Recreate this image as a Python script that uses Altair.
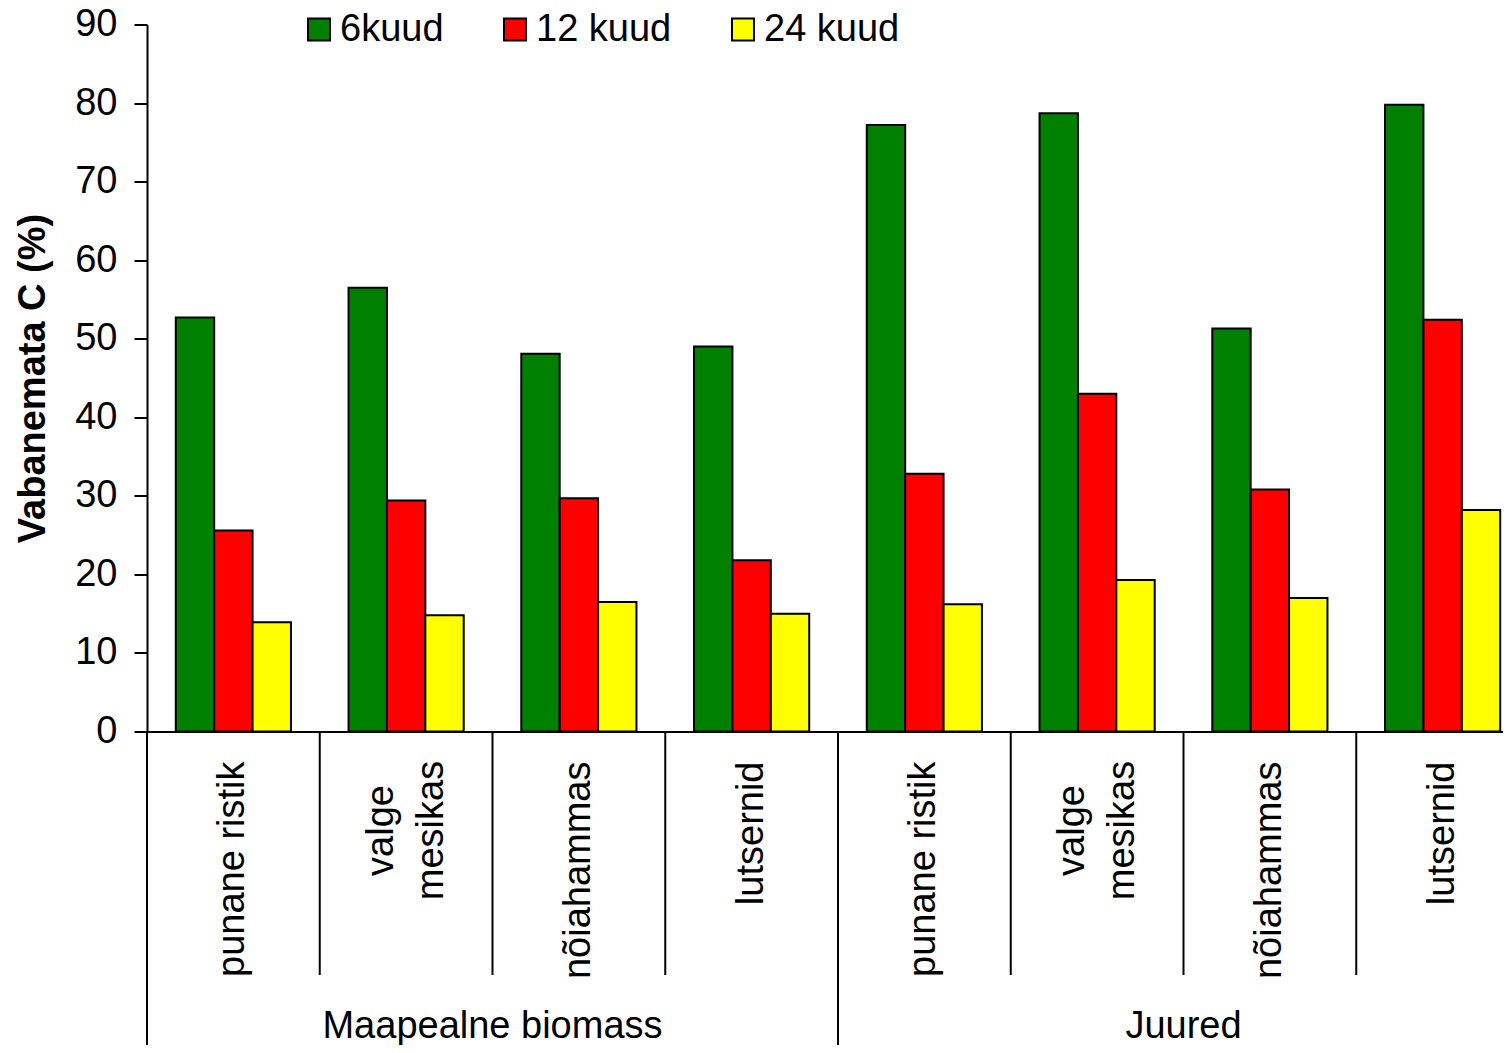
import altair as alt
import pandas as pd

# ---- data ----
groups = ["Maapealne biomass", "Juured"]
plants = ["punane ristik", "valge\nmesikas", "nõiahammas", "lutsernid"]
series = ["6kuud", "12 kuud", "24 kuud"]
colors = ["#008000", "#FF0000", "#FFFF00"]
v6 = [52.7, 56.5, 48.1, 49.0, 77.2, 78.7, 51.3, 79.8]
v12 = [25.6, 29.4, 29.7, 21.8, 32.8, 43.0, 30.8, 52.4]
v24 = [13.9, 14.8, 16.5, 15.0, 16.2, 19.3, 17.0, 28.2]
y_ticks = [0, 10, 20, 30, 40, 50, 60, 70, 80, 90]

keys, labels, grp, first = [], [], [], []
for g in groups:
    for j, p in enumerate(plants):
        keys.append(f"{g}|{p}")
        labels.append(p)
        grp.append(g)
        first.append(j == 0)

bars_df = pd.DataFrame(
    [{"key": k, "series": s, "value": v}
     for s, vals in zip(series, [v6, v12, v24])
     for k, v in zip(keys, vals)]
)
cats_df = pd.DataFrame({
    "key": keys, "label": labels, "group": grp, "first": first,
    "multi": ["\n" in l for l in labels],
})
grp_df = pd.DataFrame({"group": groups})

# ---- layout ----
LEFT, TOP = 139, 16.5
W, H = 1356, 707
SVG_H = 1037
RANGE = 1382
FONT = "Liberation Sans"
FS = 38

def xscale():
    return alt.Scale(domain=keys, range=[0, RANGE], paddingInner=0, paddingOuter=0)

bar = alt.Chart(bars_df).mark_bar(stroke="black", strokeWidth=2).encode(
    x=alt.X("key:N", scale=xscale(),
            axis=alt.Axis(labels=False, ticks=False, title=None,
                          domainColor="black", domainWidth=2)),
    xOffset=alt.XOffset("series:N",
                        scale=alt.Scale(domain=series, paddingInner=0, paddingOuter=0.75)),
    y=alt.Y("value:Q", scale=alt.Scale(domain=[0, 90], nice=False),
            axis=alt.Axis(values=y_ticks, grid=False, tickSize=13, tickWidth=2,
                          tickColor="black", domainColor="black", domainWidth=2,
                          labelFont=FONT, labelFontSize=FS, labelColor="black",
                          labelPadding=17, title="Vabanemata C (%)", titleFont=FONT,
                          titleFontSize=FS, titleFontWeight="bold", titleColor="black",
                          titlePadding=22)),
    color=alt.Color("series:N", scale=alt.Scale(domain=series, range=colors),
                    legend=alt.Legend(title=None, orient="none", legendX=153, legendY=-14,
                                      direction="horizontal", symbolType="square",
                                      symbolSize=484, symbolStrokeColor="black",
                                      symbolStrokeWidth=2, symbolOpacity=1,
                                      labelFont=FONT, labelFontSize=FS, labelColor="black",
                                      labelOffset=2, columnPadding=52, padding=0)),
)

rule_short = alt.Chart(cats_df).transform_filter("!datum.first").mark_rule(
    color="black", strokeWidth=2).encode(
    x=alt.X("key:N", scale=xscale(), bandPosition=0, axis=None),
    y=alt.value(H), y2=alt.value(H + 243.5),
)
rule_long = alt.Chart(cats_df).transform_filter("datum.first").mark_rule(
    color="black", strokeWidth=2).encode(
    x=alt.X("key:N", scale=xscale(), bandPosition=0, axis=None),
    y=alt.value(H), y2=alt.value(H + 400),
)

lab_single = alt.Chart(cats_df).transform_filter("!datum.multi").mark_text(
    angle=270, align="right", baseline="middle", font=FONT, fontSize=FS, color="black").encode(
    x=alt.X("key:N", scale=xscale(), axis=None),
    y=alt.value(H + 30),
    text="label:N",
)
lab_multi = alt.Chart(cats_df).transform_filter("datum.multi").mark_text(
    angle=270, align="center", baseline="middle", lineBreak="\n", lineHeight=50,
    dy=-24, font=FONT, fontSize=FS, color="black").encode(
    x=alt.X("key:N", scale=xscale(), axis=None),
    y=alt.value(H + 99),
    text="label:N",
)

grp_lab = alt.Chart(grp_df).mark_text(
    align="center", baseline="alphabetic", font=FONT, fontSize=FS, color="black").encode(
    x=alt.X("group:N", scale=alt.Scale(domain=groups, range=[0, RANGE],
                                       paddingInner=0, paddingOuter=0), axis=None),
    y=alt.value(H + 306),
    text="group:N",
)

chart = alt.layer(bar, rule_short, rule_long, lab_single, lab_multi, grp_lab).resolve_scale(
    x="independent"
).properties(
    width=W, height=H,
    autosize=alt.AutoSizeParams(type="none"),
    padding={"left": LEFT, "top": TOP, "right": 0, "bottom": SVG_H - TOP - H},
    background="white",
).configure_view(stroke=None)

chart.save("out.html", embed_options={"renderer": "svg", "actions": False})
